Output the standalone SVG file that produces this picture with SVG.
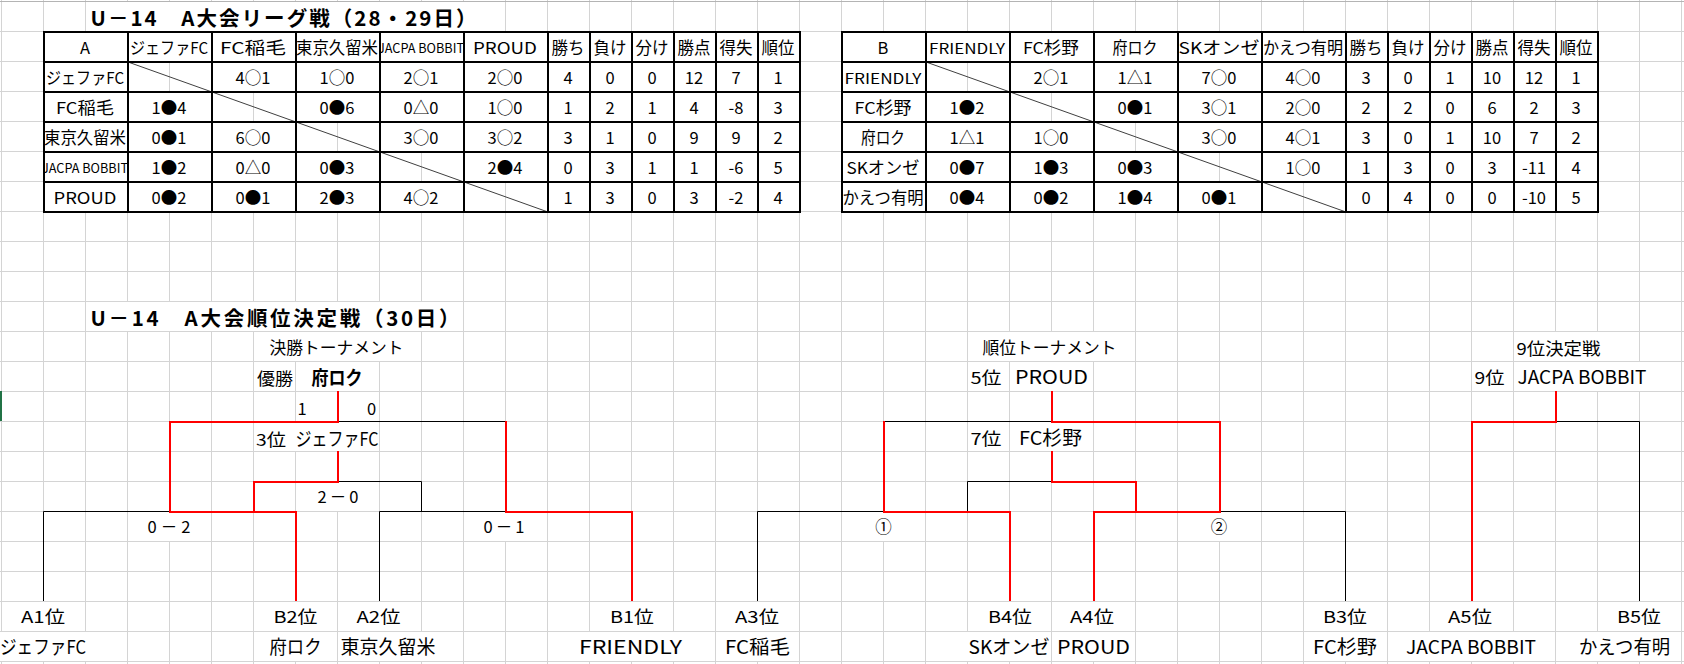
<svg xmlns="http://www.w3.org/2000/svg" width="1684" height="664" viewBox="0 0 1684 664">
<style>
text{font-family:"Noto Sans CJK JP","Noto Sans",sans-serif;fill:#000}
.t{font-size:16.5px;text-anchor:middle}
.sm{font-size:13px}
.fr{font-size:14px}
.n{font-size:19px;text-anchor:middle}
.b{font-weight:bold}
.ttl{font-size:20.5px;font-weight:bold}
.grid{stroke:#d4d4d4;stroke-width:1;fill:none}
.bd{stroke:#000;stroke-width:2;fill:none}
.dg{stroke:#404040;stroke-width:1;fill:none}
.k{stroke:#000;stroke-width:1;fill:none}
.r{stroke:#ff0000;stroke-width:2;fill:none;stroke-linejoin:miter}
.w{fill:#fff}
</style>
<defs>
<clipPath id="cA1"><rect x="380" y="33" width="83" height="28"/></clipPath>
<clipPath id="cA2"><rect x="45" y="153" width="82" height="28"/></clipPath>
</defs>
<rect width="1684" height="664" fill="#fff"/>
<g id="gridlines">
<path class="grid" d="M1.5 0V664M43.5 0V664M85.5 0V664M127.5 0V664M169.5 0V664M211.5 0V664M253.5 0V664M295.5 0V664M337.5 0V664M379.5 0V664M421.5 0V664M463.5 0V664M505.5 0V664M547.5 0V664M589.5 0V664M631.5 0V664M673.5 0V664M715.5 0V664M757.5 0V664M799.5 0V664M841.5 0V664M883.5 0V664M925.5 0V664M967.5 0V664M1009.5 0V664M1051.5 0V664M1093.5 0V664M1135.5 0V664M1177.5 0V664M1219.5 0V664M1261.5 0V664M1303.5 0V664M1345.5 0V664M1387.5 0V664M1429.5 0V664M1471.5 0V664M1513.5 0V664M1555.5 0V664M1597.5 0V664M1639.5 0V664M1681.5 0V664"/>
<path class="grid" d="M0 31.5H1684M0 61.5H1684M0 91.5H1684M0 121.5H1684M0 151.5H1684M0 181.5H1684M0 211.5H1684M0 241.5H1684M0 271.5H1684M0 301.5H1684M0 331.5H1684M0 361.5H1684M0 391.5H1684M0 421.5H1684M0 451.5H1684M0 481.5H1684M0 511.5H1684M0 541.5H1684M0 571.5H1684M0 601.5H1684M0 631.5H1684M0 661.5H1684"/>
<path d="M0 1.5H1684" stroke="#b4b4b4" stroke-width="1"/>
<rect x="0" y="391" width="2" height="30" fill="#217346"/>
</g>
<g id="overflow-masks">
<rect class="w" x="91" y="2" width="379" height="29"/>
<rect class="w" x="91" y="302" width="357" height="29"/>
<rect class="w" x="269" y="332" width="135" height="29"/>
<rect class="w" x="982" y="332" width="135" height="29"/>
<rect class="w" x="1516" y="332" width="85" height="29"/>
<rect class="w" x="311" y="362" width="52" height="29"/>
<rect class="w" x="1014" y="362" width="75" height="29"/>
<rect class="w" x="1517" y="362" width="131" height="29"/>
<rect class="w" x="294" y="422" width="84.5" height="29"/>
<rect class="w" x="1018" y="422" width="65" height="29"/>
<rect class="w" x="317" y="482" width="42" height="29"/>
<rect class="w" x="147" y="512" width="44" height="29"/>
<rect class="w" x="483" y="512" width="41" height="29"/>
<rect class="w" x="875" y="512" width="17" height="29"/>
<rect class="w" x="1210" y="512" width="18" height="29"/>
<rect class="w" x="21" y="602" width="44" height="29"/>
<rect class="w" x="273" y="602" width="45" height="29"/>
<rect class="w" x="356" y="602" width="45" height="29"/>
<rect class="w" x="610" y="602" width="44" height="29"/>
<rect class="w" x="734" y="602" width="46" height="29"/>
<rect class="w" x="987" y="602" width="45" height="29"/>
<rect class="w" x="1069" y="602" width="46" height="29"/>
<rect class="w" x="1322" y="602" width="46" height="29"/>
<rect class="w" x="1448" y="602" width="44" height="29"/>
<rect class="w" x="1617" y="602" width="44" height="29"/>
<rect class="w" x="0" y="632" width="86" height="29"/>
<rect class="w" x="269" y="632" width="53" height="29"/>
<rect class="w" x="340" y="632" width="96" height="29"/>
<rect class="w" x="578" y="632" width="105" height="29"/>
<rect class="w" x="724" y="632" width="67" height="29"/>
<rect class="w" x="967" y="632" width="83" height="29"/>
<rect class="w" x="1056" y="632" width="75" height="29"/>
<rect class="w" x="1312" y="632" width="66" height="29"/>
<rect class="w" x="1405" y="632" width="132" height="29"/>
<rect class="w" x="1578" y="632" width="93" height="29"/>
</g>

<g id="title-league">
<text class="ttl" x="90.5" y="25.5" textLength="386" lengthAdjust="spacing">U－14　A大会リーグ戦（28・29日）</text>
</g>

<g id="table-a">
<rect class="w" x="43" y="31" width="757" height="181"/>
<path class="grid" d="M169.5 63V91M253.5 93V121M337.5 123V151M421.5 153V181M505.5 183V211"/>
<path class="dg" d="M128 62L548 212"/>
<path class="bd" d="M44 31V213M128 31V213M212 31V213M296 31V213M380 31V213M464 31V213M548 31V213M590 31V213M632 31V213M674 31V213M716 31V213M758 31V213M800 31V213M43 32H801M43 62H801M43 92H801M43 122H801M43 152H801M43 182H801M43 212H801"/>
<text class="t" x="85" y="54">A</text>
<text class="t" x="169" y="54" textLength="78" lengthAdjust="spacingAndGlyphs">ジェファFC</text>
<text class="t" x="253" y="54" textLength="66" lengthAdjust="spacingAndGlyphs">FC稲毛</text>
<text class="t" x="337" y="54" textLength="82" lengthAdjust="spacingAndGlyphs">東京久留米</text>
<text class="t sm" x="421" y="53" textLength="86" lengthAdjust="spacingAndGlyphs" clip-path="url(#cA1)">JACPA BOBBIT</text>
<text class="t" x="505" y="54" textLength="64" lengthAdjust="spacingAndGlyphs">PROUD</text>
<text class="t" x="568" y="54">勝ち</text>
<text class="t" x="610" y="54">負け</text>
<text class="t" x="652" y="54">分け</text>
<text class="t" x="694" y="54">勝点</text>
<text class="t" x="736" y="54">得失</text>
<text class="t" x="778" y="54">順位</text>

<text class="t" x="85" y="84" textLength="78" lengthAdjust="spacingAndGlyphs">ジェファFC</text>
<text class="t" x="253" y="84">4○1</text>
<text class="t" x="337" y="84">1○0</text>
<text class="t" x="421" y="84">2○1</text>
<text class="t" x="505" y="84">2○0</text>
<text class="t" x="568" y="84">4</text>
<text class="t" x="610" y="84">0</text>
<text class="t" x="652" y="84">0</text>
<text class="t" x="694" y="84">12</text>
<text class="t" x="736" y="84">7</text>
<text class="t" x="778" y="84">1</text>

<text class="t" x="85" y="114" textLength="58" lengthAdjust="spacingAndGlyphs">FC稲毛</text>
<text class="t" x="169" y="114">1●4</text>
<text class="t" x="337" y="114">0●6</text>
<text class="t" x="421" y="114">0△0</text>
<text class="t" x="505" y="114">1○0</text>
<text class="t" x="568" y="114">1</text>
<text class="t" x="610" y="114">2</text>
<text class="t" x="652" y="114">1</text>
<text class="t" x="694" y="114">4</text>
<text class="t" x="736" y="114">-8</text>
<text class="t" x="778" y="114">3</text>

<text class="t" x="85" y="144" textLength="82" lengthAdjust="spacingAndGlyphs">東京久留米</text>
<text class="t" x="169" y="144">0●1</text>
<text class="t" x="253" y="144">6○0</text>
<text class="t" x="421" y="144">3○0</text>
<text class="t" x="505" y="144">3○2</text>
<text class="t" x="568" y="144">3</text>
<text class="t" x="610" y="144">1</text>
<text class="t" x="652" y="144">0</text>
<text class="t" x="694" y="144">9</text>
<text class="t" x="736" y="144">9</text>
<text class="t" x="778" y="144">2</text>

<text class="t sm" x="85" y="173" textLength="86" lengthAdjust="spacingAndGlyphs" clip-path="url(#cA2)">JACPA BOBBIT</text>
<text class="t" x="169" y="174">1●2</text>
<text class="t" x="253" y="174">0△0</text>
<text class="t" x="337" y="174">0●3</text>
<text class="t" x="505" y="174">2●4</text>
<text class="t" x="568" y="174">0</text>
<text class="t" x="610" y="174">3</text>
<text class="t" x="652" y="174">1</text>
<text class="t" x="694" y="174">1</text>
<text class="t" x="736" y="174">-6</text>
<text class="t" x="778" y="174">5</text>

<text class="t" x="85" y="204" textLength="63" lengthAdjust="spacingAndGlyphs">PROUD</text>
<text class="t" x="169" y="204">0●2</text>
<text class="t" x="253" y="204">0●1</text>
<text class="t" x="337" y="204">2●3</text>
<text class="t" x="421" y="204">4○2</text>
<text class="t" x="568" y="204">1</text>
<text class="t" x="610" y="204">3</text>
<text class="t" x="652" y="204">0</text>
<text class="t" x="694" y="204">3</text>
<text class="t" x="736" y="204">-2</text>
<text class="t" x="778" y="204">4</text>
</g>

<g id="table-b">
<rect class="w" x="841" y="31" width="757" height="181"/>
<path class="grid" d="M967.5 63V91M1051.5 93V121M1135.5 123V151M1219.5 153V181M1303.5 183V211"/>
<path class="dg" d="M926 62L1346 212"/>
<path class="bd" d="M842 31V213M926 31V213M1010 31V213M1094 31V213M1178 31V213M1262 31V213M1346 31V213M1388 31V213M1430 31V213M1472 31V213M1514 31V213M1556 31V213M1598 31V213M841 32H1599M841 62H1599M841 92H1599M841 122H1599M841 152H1599M841 182H1599M841 212H1599"/>
<text class="t" x="883" y="54">B</text>
<text class="t fr" x="967" y="54" textLength="76" lengthAdjust="spacingAndGlyphs">FRIENDLY</text>
<text class="t" x="1051" y="54" textLength="56" lengthAdjust="spacingAndGlyphs">FC杉野</text>
<text class="t" x="1135" y="54" textLength="45" lengthAdjust="spacingAndGlyphs">府ロク</text>
<text class="t" x="1219" y="54" textLength="81" lengthAdjust="spacingAndGlyphs">SKオンゼ</text>
<text class="t" x="1303" y="54" textLength="80" lengthAdjust="spacingAndGlyphs">かえつ有明</text>
<text class="t" x="1366" y="54">勝ち</text>
<text class="t" x="1408" y="54">負け</text>
<text class="t" x="1450" y="54">分け</text>
<text class="t" x="1492" y="54">勝点</text>
<text class="t" x="1534" y="54">得失</text>
<text class="t" x="1576" y="54">順位</text>

<text class="t fr" x="883" y="84" textLength="77" lengthAdjust="spacingAndGlyphs">FRIENDLY</text>
<text class="t" x="1051" y="84">2○1</text>
<text class="t" x="1135" y="84">1△1</text>
<text class="t" x="1219" y="84">7○0</text>
<text class="t" x="1303" y="84">4○0</text>
<text class="t" x="1366" y="84">3</text>
<text class="t" x="1408" y="84">0</text>
<text class="t" x="1450" y="84">1</text>
<text class="t" x="1492" y="84">10</text>
<text class="t" x="1534" y="84">12</text>
<text class="t" x="1576" y="84">1</text>

<text class="t" x="883" y="114" textLength="57" lengthAdjust="spacingAndGlyphs">FC杉野</text>
<text class="t" x="967" y="114">1●2</text>
<text class="t" x="1135" y="114">0●1</text>
<text class="t" x="1219" y="114">3○1</text>
<text class="t" x="1303" y="114">2○0</text>
<text class="t" x="1366" y="114">2</text>
<text class="t" x="1408" y="114">2</text>
<text class="t" x="1450" y="114">0</text>
<text class="t" x="1492" y="114">6</text>
<text class="t" x="1534" y="114">2</text>
<text class="t" x="1576" y="114">3</text>

<text class="t" x="883" y="144" textLength="44" lengthAdjust="spacingAndGlyphs">府ロク</text>
<text class="t" x="967" y="144">1△1</text>
<text class="t" x="1051" y="144">1○0</text>
<text class="t" x="1219" y="144">3○0</text>
<text class="t" x="1303" y="144">4○1</text>
<text class="t" x="1366" y="144">3</text>
<text class="t" x="1408" y="144">0</text>
<text class="t" x="1450" y="144">1</text>
<text class="t" x="1492" y="144">10</text>
<text class="t" x="1534" y="144">7</text>
<text class="t" x="1576" y="144">2</text>

<text class="t" x="883" y="174" textLength="73" lengthAdjust="spacingAndGlyphs">SKオンゼ</text>
<text class="t" x="967" y="174">0●7</text>
<text class="t" x="1051" y="174">1●3</text>
<text class="t" x="1135" y="174">0●3</text>
<text class="t" x="1303" y="174">1○0</text>
<text class="t" x="1366" y="174">1</text>
<text class="t" x="1408" y="174">3</text>
<text class="t" x="1450" y="174">0</text>
<text class="t" x="1492" y="174">3</text>
<text class="t" x="1534" y="174">-11</text>
<text class="t" x="1576" y="174">4</text>

<text class="t" x="883" y="204" textLength="81" lengthAdjust="spacingAndGlyphs">かえつ有明</text>
<text class="t" x="967" y="204">0●4</text>
<text class="t" x="1051" y="204">0●2</text>
<text class="t" x="1135" y="204">1●4</text>
<text class="t" x="1219" y="204">0●1</text>
<text class="t" x="1366" y="204">0</text>
<text class="t" x="1408" y="204">4</text>
<text class="t" x="1450" y="204">0</text>
<text class="t" x="1492" y="204">0</text>
<text class="t" x="1534" y="204">-10</text>
<text class="t" x="1576" y="204">5</text>
</g>

<g id="title-ranking">
<text class="ttl" x="90.5" y="325.5" textLength="369" lengthAdjust="spacing">U－14　A大会順位決定戦（30日）</text>
</g>

<g id="connectors">
<path class="k" d="M43.5 601V511.5H170"/>
<path class="k" d="M379.5 601V511.5H505"/>
<path class="k" d="M337 481.5H421.5V511"/>
<path class="k" d="M338 421.5H505"/>
<path class="k" d="M757.5 601V511.5H883"/>
<path class="k" d="M883 421.5H1051"/>
<path class="k" d="M967.5 511V481.5H1051"/>
<path class="k" d="M1345.5 601V511.5H1219"/>
<path class="k" d="M1556 421.5H1639.5V601"/>
<path class="r" d="M338 391V422H170V512H296V601"/>
<path class="r" d="M254 511V482H338V451"/>
<path class="r" d="M506 421V512H632V601"/>
<path class="r" d="M1052 391V422H1220V512H1094V601"/>
<path class="r" d="M884 421V512H1010V601"/>
<path class="r" d="M1052 451V482H1136V511"/>
<path class="r" d="M1556 391V422H1472V601"/>
</g>

<g id="final-tournament">
<text class="t" x="336.5" y="354" textLength="134" lengthAdjust="spacingAndGlyphs">決勝トーナメント</text>
<text class="t" x="275" y="385" textLength="36" lengthAdjust="spacingAndGlyphs">優勝</text>
<text class="n b" x="337" y="385" textLength="51" lengthAdjust="spacingAndGlyphs">府ロク</text>
<text class="t" x="302" y="415">1</text>
<text class="t" x="371.5" y="415">0</text>
<text class="t" x="271" y="446" textLength="30" lengthAdjust="spacingAndGlyphs">3位</text>
<text class="n" x="337" y="446" textLength="83" lengthAdjust="spacingAndGlyphs">ジェファFC</text>
<text class="t" x="338" y="503" textLength="41" lengthAdjust="spacing">2－0</text>
<text class="t" x="169" y="533" textLength="43" lengthAdjust="spacing">0－2</text>
<text class="t" x="504" y="533" textLength="41" lengthAdjust="spacing">0－1</text>
</g>
<g id="slot-a1"><text class="t" x="43" y="623" textLength="44" lengthAdjust="spacingAndGlyphs">A1位</text><text class="n" x="43" y="654" textLength="86" lengthAdjust="spacingAndGlyphs">ジェファFC</text></g>
<g id="slot-b2"><text class="t" x="295.5" y="623" textLength="44" lengthAdjust="spacingAndGlyphs">B2位</text><text class="n" x="295.5" y="654" textLength="52" lengthAdjust="spacingAndGlyphs">府ロク</text></g>
<g id="slot-a2"><text class="t" x="378.5" y="623" textLength="44" lengthAdjust="spacingAndGlyphs">A2位</text><text class="n" x="388" y="654" textLength="95" lengthAdjust="spacingAndGlyphs">東京久留米</text></g>
<g id="slot-b1"><text class="t" x="632" y="623" textLength="44" lengthAdjust="spacingAndGlyphs">B1位</text><text class="n" x="630.5" y="654" textLength="103" lengthAdjust="spacingAndGlyphs">FRIENDLY</text></g>

<g id="placement-tournament">
<text class="t" x="1049.5" y="354" textLength="134" lengthAdjust="spacingAndGlyphs">順位トーナメント</text>
<text class="t" x="986" y="384" textLength="31" lengthAdjust="spacingAndGlyphs">5位</text>
<text class="n" x="1051.5" y="384" textLength="73" lengthAdjust="spacingAndGlyphs">PROUD</text>
<text class="t" x="986" y="445" textLength="31" lengthAdjust="spacingAndGlyphs">7位</text>
<text class="n" x="1050.5" y="445" textLength="63" lengthAdjust="spacingAndGlyphs">FC杉野</text>
<text class="t" x="883.5" y="533">①</text>
<text class="t" x="1219" y="533">②</text>
</g>
<g id="slot-a3"><text class="t" x="757" y="623" textLength="44" lengthAdjust="spacingAndGlyphs">A3位</text><text class="n" x="757.5" y="654" textLength="65" lengthAdjust="spacingAndGlyphs">FC稲毛</text></g>
<g id="slot-b4"><text class="t" x="1010" y="623" textLength="44" lengthAdjust="spacingAndGlyphs">B4位</text><text class="n" x="1009" y="654" textLength="81" lengthAdjust="spacingAndGlyphs">SKオンゼ</text></g>
<g id="slot-a4"><text class="t" x="1092" y="623" textLength="44" lengthAdjust="spacingAndGlyphs">A4位</text><text class="n" x="1093.5" y="654" textLength="73" lengthAdjust="spacingAndGlyphs">PROUD</text></g>
<g id="slot-b3"><text class="t" x="1345" y="623" textLength="44" lengthAdjust="spacingAndGlyphs">B3位</text><text class="n" x="1345" y="654" textLength="64" lengthAdjust="spacingAndGlyphs">FC杉野</text></g>

<g id="ninth-place">
<text class="t" x="1558.5" y="355" textLength="84" lengthAdjust="spacingAndGlyphs">9位決定戦</text>
<text class="t" x="1489.5" y="384" textLength="30" lengthAdjust="spacingAndGlyphs">9位</text>
<text class="n" x="1582" y="384" textLength="129" lengthAdjust="spacingAndGlyphs">JACPA BOBBIT</text>
</g>
<g id="slot-a5"><text class="t" x="1470" y="623" textLength="44" lengthAdjust="spacingAndGlyphs">A5位</text><text class="n" x="1471" y="654" textLength="130" lengthAdjust="spacingAndGlyphs">JACPA BOBBIT</text></g>
<g id="slot-b5"><text class="t" x="1639" y="623" textLength="44" lengthAdjust="spacingAndGlyphs">B5位</text><text class="n" x="1624.5" y="654" textLength="91" lengthAdjust="spacingAndGlyphs">かえつ有明</text></g>
</svg>
